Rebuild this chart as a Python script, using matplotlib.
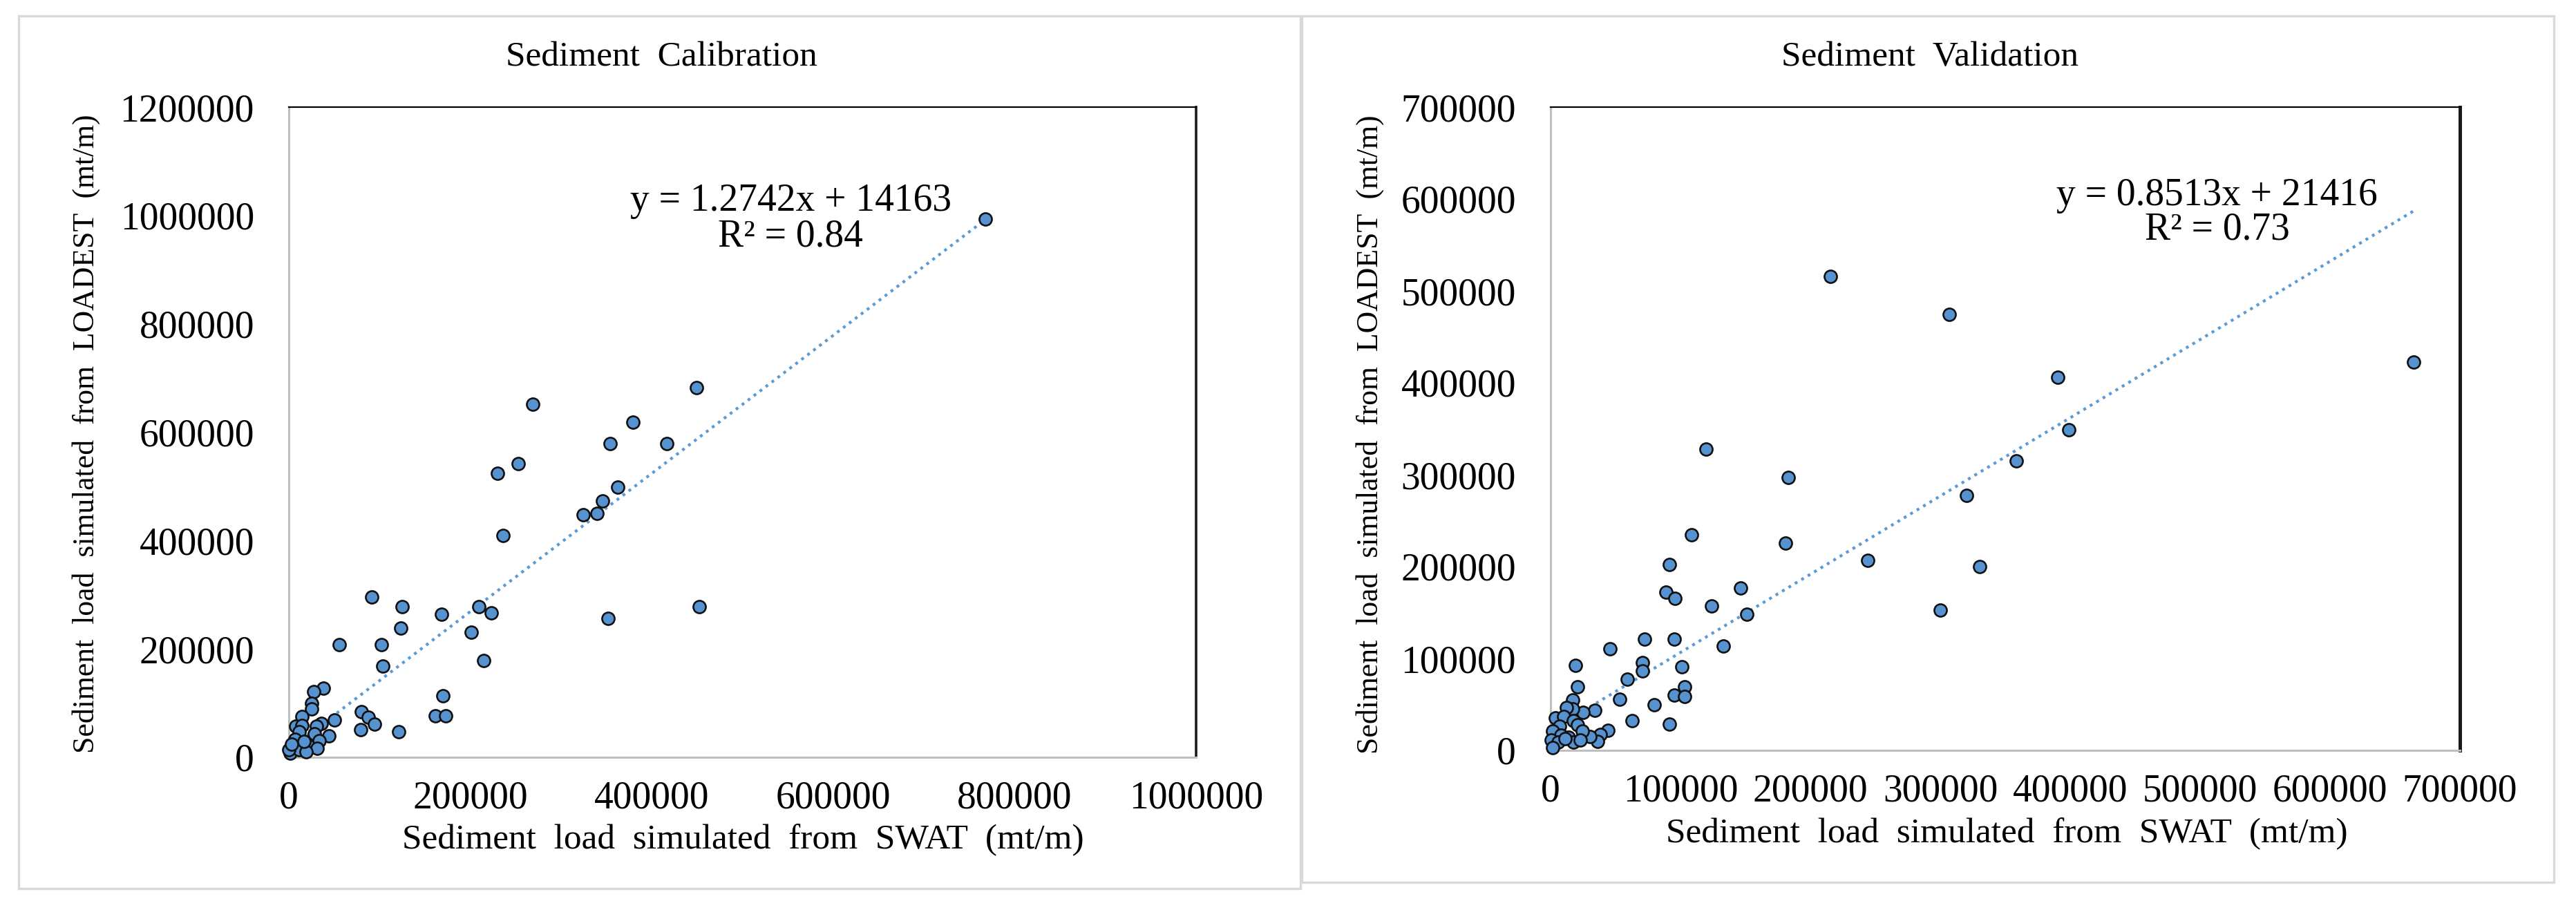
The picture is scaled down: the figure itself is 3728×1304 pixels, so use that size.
import matplotlib
matplotlib.use("Agg")
import matplotlib.pyplot as plt
from matplotlib.patches import Rectangle
import numpy as np

plt.rcParams['font.family'] = ['Liberation Serif', 'DejaVu Serif']

# ---------------- Data ----------------
cal_swat = [768000, 449600, 269200, 379300, 354300, 416300, 252500, 230300, 362600, 346000,
            339500, 324700, 235900, 91600, 124900, 209100, 452400, 222900, 168400, 351500,
            200700, 214600,
            123400, 55300, 101800, 103600, 169600, 161500, 172900, 38300, 27700, 24900,
            24900, 79700, 87800, 94200, 79200, 120900, 50500, 14700, 7900, 14200,
            35800, 30700, 11700, 28200, 44200, 33300, 21800, 31500, 9100, 4100,
            1500, 11700, 19300, 300, 6600, 16800, 2800]
cal_loadest = [994000, 681700, 652000, 619100, 578700, 578700, 542600, 524600, 498000, 472500,
               450300, 447100, 409900, 296300, 278200, 278200, 278200, 266500, 263400, 255900,
               230400, 178400,
               238100, 208300, 208300, 168300, 113100, 76500, 76500, 127500, 121200, 99000,
               89300, 84200, 73500, 61600, 51400, 46800, 69300, 75700, 57400, 58700,
               62900, 57400, 46800, 42900, 39500, 31000, 20400, 16200, 26800, 20400,
               7700, 14000, 9800, 14000, 33200, 28900, 24700]

val_swat = [664600, 215600, 306900, 390600, 398900, 358300, 119800, 183200, 320200, 108400,
            180700, 244100, 330400, 91300, 146500, 88800, 95800, 123700, 150900, 299900,
            133200,
            72300, 95400, 45700, 19100, 70600, 70600, 101100, 59000, 20900, 103400,
            95000, 103400, 53400, 79800, 34200, 24800, 17000, 17000, 12100, 62900,
            91500, 44000, 38300, 36000, 30100, 3500, 10300, 17700, 6700, 20900,
            24500, 1400, 8200, 13800, 500, 5900, 17700, 1400, 11200, 22700]
val_loadest = [422900, 516100, 474800, 406000, 349100, 314700, 327800, 297100, 277700, 234600,
               225800, 206400, 200200, 202000, 176400, 172000, 165100, 157000, 148300, 152600,
               113200,
               121200, 121200, 110400, 92800, 95300, 86100, 91100, 77800, 69500, 69500,
               60200, 58500, 55900, 49700, 43400, 41400, 54700, 45200, 46400, 32600,
               28400, 21800, 17600, 10000, 15100, 35100, 36900, 32600, 26300, 27600,
               21300, 21300, 16800, 14300, 11300, 8800, 8800, 3300, 12500, 11300]

cal_slope, cal_intercept, cal_r2 = 1.2742, 14163, 0.84
val_slope, val_intercept, val_r2 = 0.8513, 21416, 0.73

cal_xticks = [0, 200000, 400000, 600000, 800000, 1000000]
cal_yticks = [0, 200000, 400000, 600000, 800000, 1000000, 1200000]
val_xticks = [0, 100000, 200000, 300000, 400000, 500000, 600000, 700000]
val_yticks = [0, 100000, 200000, 300000, 400000, 500000, 600000, 700000]

titles = ["Sediment  Calibration", "Sediment  Validation"]
xlabel = "Sediment  load  simulated  from  SWAT  (mt/m)"
ylabel = "Sediment  load  simulated  from  LOADEST  (mt/m)"

# ---------------- Figure ----------------
W, H = 3728, 1304
fig = plt.figure(figsize=(W / 100, H / 100), dpi=100)
fig.patch.set_facecolor('white')

def fx(px):
    return px / W

def fy(py):
    return 1 - py / H

# panel borders
for (x0, y0, x1, y1) in [(27, 23, 1882, 1286), (1884, 23, 3696, 1277)]:
    fig.patches.append(Rectangle((fx(x0), fy(y1)), fx(x1) - fx(x0), fy(y0) - fy(y1),
                                 transform=fig.transFigure, fill=False,
                                 edgecolor='#d9d9d9', linewidth=2.4, zorder=0))

axes_px = [(418, 155, 1731, 1096), (2244, 155, 3560, 1086)]
axs = []
for (x0, y0, x1, y1) in axes_px:
    ax = fig.add_axes([fx(x0), fy(y1), fx(x1) - fx(x0), fy(y0) - fy(y1)])
    axs.append(ax)

TICK_FS = 40
panels = [
    (axs[0], cal_swat, cal_loadest, cal_slope, cal_intercept, cal_r2,
     cal_xticks, cal_yticks, (553000, 1027000), (553000, 961000), 2.6),
    (axs[1], val_swat, val_loadest, val_slope, val_intercept, val_r2,
     val_xticks, val_yticks, (513000, 604000), (513000, 566500), 3.6),
]

for ax, xs, ys, m, b, r2, xt, yt, eqpos, r2pos, rlw in panels:
    xs = np.asarray(xs, float)
    ys = np.asarray(ys, float)
    ax.set_xlim(xt[0], xt[-1])
    ax.set_ylim(yt[0], yt[-1])
    ax.set_xticks(xt)
    ax.set_yticks(yt)
    ax.set_xticklabels([str(v) for v in xt])
    ax.set_yticklabels([str(v) for v in yt])
    ax.tick_params(axis='both', length=0, labelsize=TICK_FS, colors='#000000')
    ax.tick_params(axis='y', pad=36)
    ax.tick_params(axis='x', pad=24)
    for s in ['left', 'bottom']:
        ax.spines[s].set_color('#bfbfbf')
        ax.spines[s].set_linewidth(2.2)
    ax.spines['top'].set_color('#000000')
    ax.spines['top'].set_linewidth(1.6)
    ax.spines['right'].set_color('#1a1a1a')
    ax.spines['right'].set_linewidth(rlw)

    # trendline
    lx = np.array([xs.min(), xs.max()])
    ax.plot(lx, m * lx + b, color='#5B9BD5', linewidth=3.0,
            linestyle=(0, (1, 1.6)), zorder=2)

    ax.scatter(xs, ys, s=170, facecolor='#5592cf', edgecolor='#111111',
               linewidth=1.9, zorder=3, clip_on=False)

    ax.text(eqpos[0], eqpos[1], f"y = {m:.4f}x + {b:d}", ha='center', va='center',
            fontsize=TICK_FS, color='#000000', zorder=4)
    ax.text(r2pos[0], r2pos[1], f"R² = {r2:.2f}", ha='center', va='center',
            fontsize=TICK_FS, color='#000000', zorder=4)

# titles and axis labels
fig.text(fx(957), fy(83), titles[0], ha='center', va='center', fontsize=37)
fig.text(fx(2793), fy(83), titles[1], ha='center', va='center', fontsize=37)
fig.text(fx(1075), fy(1216), xlabel, ha='center', va='center', fontsize=37)
fig.text(fx(2904), fy(1207), xlabel, ha='center', va='center', fontsize=37)
fig.text(fx(125), fy(628), ylabel, ha='center', va='center', rotation=90, fontsize=31.5)
fig.text(fx(1983), fy(629), ylabel, ha='center', va='center', rotation=90, fontsize=31.5)

fig.savefig("out.png", dpi=100, facecolor='white')
